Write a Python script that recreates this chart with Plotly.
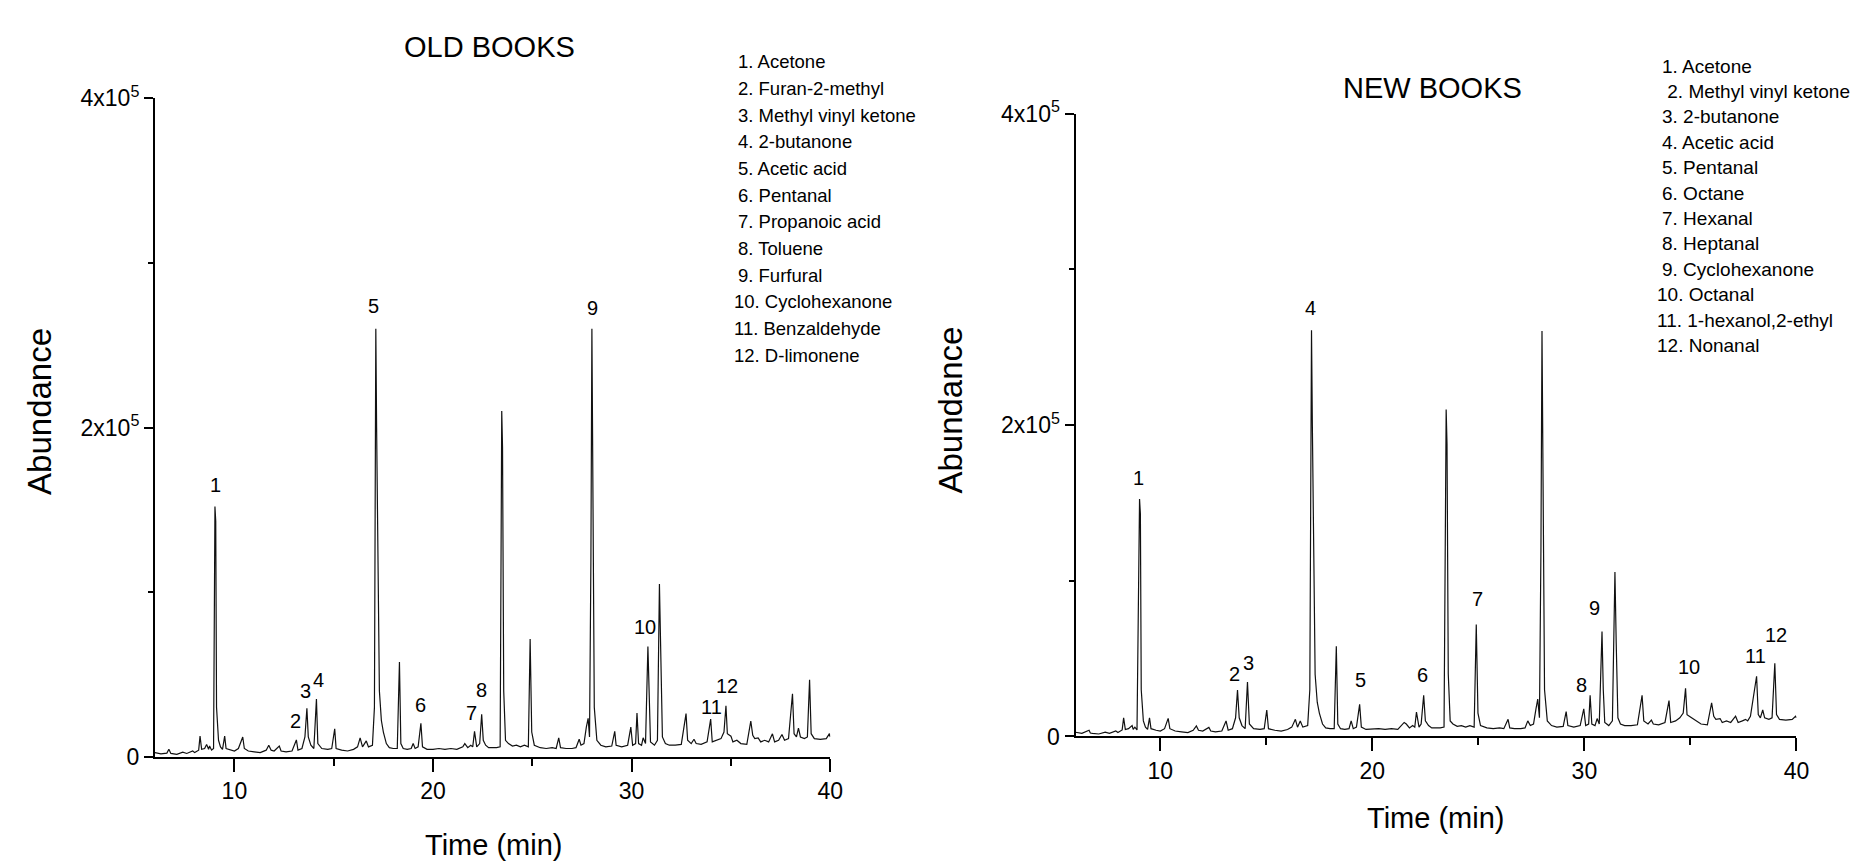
import plotly.graph_objects as go

# ---------------- DATA ----------------
old_time = [6.0, 6.3, 6.6, 6.7, 6.8, 7.1, 7.4, 7.6, 7.9, 8.0, 8.2, 8.27, 8.35, 8.5, 8.6, 8.7, 8.75, 8.85, 8.95,
            9.02, 9.06, 9.1, 9.2, 9.3, 9.4, 9.51, 9.58, 9.8, 10.0, 10.2, 10.42, 10.5, 10.7, 11.0, 11.3, 11.6,
            11.73, 11.85, 12.0, 12.26, 12.35, 12.6, 12.9, 13.12, 13.2, 13.4, 13.55, 13.65, 13.72, 13.85, 14.0,
            14.13, 14.2, 14.4, 14.7, 14.9, 15.05, 15.12, 15.4, 15.7, 16.0, 16.2, 16.33, 16.45, 16.64, 16.75,
            16.95, 17.05, 17.12, 17.16, 17.22, 17.3, 17.4, 17.5, 17.65, 17.8, 18.0, 18.2, 18.31, 18.38, 18.5,
            18.7, 18.9, 19.0, 19.1, 19.25, 19.39, 19.47, 19.7, 20.0, 20.3, 20.6, 20.9, 21.2, 21.5, 21.6, 21.75,
            21.9, 22.0, 22.09, 22.2, 22.35, 22.45, 22.53, 22.65, 22.8, 23.0, 23.2, 23.38, 23.46, 23.5, 23.56,
            23.65, 23.8, 24.0, 24.2, 24.4, 24.6, 24.8, 24.89, 24.97, 25.1, 25.4, 25.7, 26.0, 26.2, 26.33, 26.42,
            26.7, 27.0, 27.2, 27.36, 27.45, 27.6, 27.72, 27.81, 27.88, 27.95, 28.0, 28.05, 28.12, 28.25, 28.45,
            28.7, 29.0, 29.15, 29.22, 29.5, 29.8, 29.96, 30.05, 30.2, 30.27, 30.35, 30.5, 30.58, 30.7, 30.82,
            30.88, 30.95, 31.15, 31.3, 31.4, 31.46, 31.55, 31.7, 31.9, 32.2, 32.5, 32.74, 32.82, 33.0, 33.14,
            33.25, 33.5, 33.8, 33.98, 34.06, 34.3, 34.5, 34.65, 34.75, 34.82, 35.0, 35.1, 35.3, 35.5, 35.8,
            36.0, 36.1, 36.2, 36.37, 36.5, 36.7, 36.9, 37.09, 37.2, 37.4, 37.57, 37.7, 37.9, 38.1, 38.18, 38.3,
            38.4, 38.5, 38.7, 38.85, 38.96, 39.04, 39.2, 39.5, 39.8, 39.96, 40.0]
old_abund_k = [2.5, 1.8, 2.2, 4.5, 2.0, 1.5, 2.8, 2.0, 3.5, 2.5, 4.0, 12.5, 4.5, 5.0, 7.5, 4.5, 6.5, 4.0, 5.0,
               152, 143, 30, 10, 6, 4.5, 12.5, 5, 4, 3.5, 5, 12, 5, 3.5, 3, 2.5, 4,
               7, 4, 3.5, 6.5, 3.5, 3, 3.5, 10.2, 4, 5, 12, 29.5, 12, 7, 5,
               35, 8, 5, 4.5, 5, 17, 5, 4, 3.5, 4.5, 6, 11.5, 6, 9.6, 6,
               7, 30, 260, 200, 130, 40, 22, 15, 8, 5.5, 5, 5, 57.5, 8, 5,
               4.5, 5, 8, 5, 6, 20.3, 6, 4.5, 4.5, 5, 4.5, 5, 4.5, 6, 8, 5.5,
               7, 6, 15.4, 6, 8, 25.8, 10, 7, 5.5, 5.5, 5.5, 6, 210, 188, 40,
               10, 8, 6.5, 7, 6, 7, 6, 71.5, 15, 7, 5.5, 5, 5.5, 5, 11.5, 5.5,
               5, 5, 5.5, 10.6, 7, 8, 18, 23.3, 12, 120, 260, 130, 30, 10, 7,
               6, 6.5, 15.4, 7, 6, 7, 18, 7, 8, 26.6, 8, 7, 11.5, 8, 67,
               30, 9, 7, 10, 105, 60, 12, 8, 7, 7, 7.5, 26.2, 10, 8, 10.6,
               8, 7.5, 9, 22.9, 9, 10, 11, 15, 31, 14, 12.5, 9, 10, 8, 7.5,
               21.7, 13, 11, 11.5, 9, 10, 9, 13.9, 9, 10, 13.5, 10, 11, 38.3, 14, 12,
               17.4, 12, 11, 12, 46.7, 14, 11, 10.5, 11, 14, 12]

new_time = [6.0, 6.3, 6.64, 6.7, 6.8, 7.1, 7.4, 7.6, 7.9, 8.0, 8.2, 8.27, 8.35, 8.5, 8.67, 8.72, 8.8, 8.9,
            9.02, 9.06, 9.1, 9.2, 9.3, 9.4, 9.49, 9.56, 9.8, 10.0, 10.2, 10.37, 10.45, 10.7, 11.0, 11.3, 11.55,
            11.7, 11.8, 12.0, 12.29, 12.38, 12.6, 12.9, 13.1, 13.2, 13.4, 13.55, 13.64, 13.72, 13.85, 14.0,
            14.11, 14.2, 14.4, 14.7, 14.9, 15.02, 15.1, 15.4, 15.7, 16.0, 16.2, 16.37, 16.47, 16.6, 16.72,
            16.95, 17.05, 17.13, 17.17, 17.23, 17.3, 17.4, 17.5, 17.65, 17.8, 18.0, 18.2, 18.3, 18.37, 18.5,
            18.7, 18.9, 19.0, 19.1, 19.25, 19.4, 19.48, 19.7, 20.0, 20.3, 20.6, 20.9, 21.2, 21.5, 21.6, 21.75,
            21.9, 22.0, 22.08, 22.2, 22.3, 22.42, 22.5, 22.65, 22.8, 23.0, 23.2, 23.38, 23.48, 23.52, 23.58,
            23.67, 23.8, 24.0, 24.2, 24.4, 24.6, 24.8, 24.9, 24.98, 25.1, 25.4, 25.7, 26.0, 26.2, 26.4, 26.48,
            26.7, 27.0, 27.2, 27.33, 27.45, 27.6, 27.72, 27.8, 27.88, 27.95, 28.0, 28.05, 28.12, 28.25, 28.45,
            28.7, 29.0, 29.14, 29.22, 29.5, 29.8, 29.97, 30.06, 30.2, 30.27, 30.35, 30.5, 30.6, 30.7, 30.83,
            30.89, 30.96, 31.15, 31.32, 31.44, 31.5, 31.58, 31.7, 31.9, 32.2, 32.5, 32.72, 32.8, 33.0, 33.16,
            33.25, 33.5, 33.8, 33.99, 34.07, 34.3, 34.5, 34.66, 34.77, 34.84, 35.0, 35.15, 35.3, 35.5, 35.8,
            36.0, 36.1, 36.2, 36.4, 36.5, 36.7, 36.9, 37.13, 37.25, 37.45, 37.6, 37.7, 37.83, 38.12, 38.2, 38.3,
            38.41, 38.5, 38.7, 38.85, 38.98, 39.06, 39.2, 39.5, 39.8, 39.96, 40.0]
new_abund_k = [2.7, 2.0, 4.0, 2.2, 2.0, 1.6, 2.8, 2.0, 3.5, 2.6, 4.2, 12.0, 4.5, 5.0, 7.0, 4.5, 6.0, 4.2,
               152.5, 143, 30, 10, 6, 4.5, 12.0, 5, 4, 3.5, 5, 11.6, 5, 3.5, 3, 2.5, 4,
               6.8, 4, 3.5, 5.8, 3.5, 3, 3.5, 10.0, 4, 5, 12, 29.8, 12, 7, 5,
               35, 8, 5, 4.5, 5, 17, 5, 4, 3.5, 4.5, 6, 11, 6, 10, 6,
               7, 30, 261, 200, 130, 40, 22, 15, 8, 5.5, 5, 5, 58, 8, 5,
               4.5, 5, 10, 5, 6, 20.6, 6, 4.5, 4.8, 5, 4.5, 5, 4.5, 9, 8, 5.5,
               7, 6, 15.7, 6, 8, 26.4, 10, 7, 5.5, 5.5, 5.5, 6, 210, 188, 40,
               10, 8, 6.5, 7, 6, 7, 6, 72, 15, 7, 5.5, 5, 5.5, 5, 11, 5.5,
               5, 5, 5.5, 10, 7, 8, 18, 24, 12, 120, 260.5, 130, 30, 10, 7,
               6, 6.5, 16, 7, 6, 7, 17.8, 7, 8, 26.4, 8, 7, 11.5, 8, 67.5,
               30, 9, 7, 10, 105.6, 60, 12, 8, 7, 7, 7.5, 26.4, 10, 8, 10.5,
               8, 7.5, 9, 23, 9, 10, 12, 15, 30.9, 14, 12.5, 11, 10, 8, 7.5,
               21.6, 13, 11, 11.5, 9, 10, 9, 13, 9, 10, 11, 10, 13, 38.7, 14, 12,
               17, 12, 11, 12, 47, 14, 11, 10.5, 11, 13, 12]

old_abund = [v * 1000 for v in old_abund_k]
new_abund = [v * 1000 for v in new_abund_k]

old_peak_labels = ["1", "2", "3", "4", "5", "6", "7", "8", "9", "10", "11", "12"]
old_label_t = [9.05, 13.1, 13.58, 14.24, 17.02, 19.38, 21.94, 22.42, 28.03, 30.68, 34.04, 34.82]
old_label_v = [165000, 21800, 40200, 46800, 274000, 31700, 26600, 40400, 272800, 78600, 30500, 43000]

new_peak_labels = ["1", "2", "3", "4", "5", "6", "7", "8", "9", "10", "11", "12"]
new_label_t = [8.99, 13.52, 14.14, 17.1, 19.46, 22.35, 24.94, 29.84, 30.48, 34.95, 38.08, 39.05]
new_label_v = [166000, 40000, 47500, 275000, 36000, 39500, 88400, 33000, 82300, 44800, 51600, 65000]

old_compounds = ["1. Acetone", "2. Furan-2-methyl", "3. Methyl vinyl ketone", "4. 2-butanone",
                 "5. Acetic acid", "6. Pentanal", "7. Propanoic acid", "8. Toluene", "9. Furfural",
                 "10. Cyclohexanone", "11. Benzaldehyde", "12. D-limonene"]
new_compounds = ["1. Acetone", " 2. Methyl vinyl ketone", "3. 2-butanone", "4. Acetic acid",
                 "5. Pentanal", "6. Octane", "7. Hexanal", "8. Heptanal", "9. Cyclohexanone",
                 "10. Octanal", "11. 1-hexanol,2-ethyl", "12. Nonanal"]

y_tickvals = [0, 200000, 400000]
y_ticktext = ["0", "2x10<sup>5</sup>", "4x10<sup>5</sup>"]
x_tickvals = [10, 20, 30, 40]
x_ticktext = ["10", "20", "30", "40"]

# ---------------- FIGURE ----------------
W, H = 1865, 866
FONT = "Arial, Liberation Sans, sans-serif"


def px(x):
    return x / W


def py(y):
    return 1 - y / H


fig = go.Figure()
fig.add_trace(go.Scatter(x=old_time, y=old_abund, mode="lines",
                         line=dict(color="#111111", width=1.2), xaxis="x", yaxis="y",
                         showlegend=False, hoverinfo="skip"))
fig.add_trace(go.Scatter(x=new_time, y=new_abund, mode="lines",
                         line=dict(color="#111111", width=1.2), xaxis="x2", yaxis="y2",
                         showlegend=False, hoverinfo="skip"))

xcommon = dict(range=[6, 40], tickmode="array", tickvals=x_tickvals, ticktext=x_ticktext,
               showline=True, linecolor="black", linewidth=2, ticks="outside", ticklen=13,
               tickwidth=2, tickcolor="black", showgrid=False, zeroline=False,
               tickfont=dict(family=FONT, size=23, color="black"),
               minor=dict(dtick=5, tick0=0, ticks="outside", ticklen=7, tickwidth=2,
                          tickcolor="black", showgrid=False))
ycommon = dict(range=[0, 400000], tickmode="array", tickvals=y_tickvals, ticktext=y_ticktext,
               showline=True, linecolor="black", linewidth=2, ticks="outside", ticklen=9,
               tickwidth=2, tickcolor="black", showgrid=False, zeroline=False,
               tickfont=dict(family=FONT, size=23, color="black"),
               minor=dict(dtick=100000, tick0=0, ticks="outside", ticklen=5, tickwidth=2,
                          tickcolor="black", showgrid=False))

annotations = []
# titles & axis titles
annotations.append(dict(text="OLD BOOKS", x=px(485), y=py(23), xref="paper", yref="paper",
                        showarrow=False, xanchor="center", yanchor="middle",
                        font=dict(family=FONT, size=29, color="black")))
annotations.append(dict(text="NEW BOOKS", x=px(1435), y=py(65), xref="paper", yref="paper",
                        showarrow=False, xanchor="center", yanchor="middle",
                        font=dict(family=FONT, size=29, color="black")))
annotations.append(dict(text="Abundance", x=px(31), y=py(400), xref="paper", yref="paper",
                        showarrow=False, xanchor="center", yanchor="middle", textangle=-90,
                        font=dict(family=FONT, size=33, color="black")))
annotations.append(dict(text="Abundance", x=px(949), y=py(399), xref="paper", yref="paper",
                        showarrow=False, xanchor="center", yanchor="middle", textangle=-90,
                        font=dict(family=FONT, size=33, color="black")))
annotations.append(dict(text="Time (min)", x=px(489), y=py(849), xref="paper", yref="paper",
                        showarrow=False, xanchor="center", yanchor="middle",
                        font=dict(family=FONT, size=29, color="black")))
annotations.append(dict(text="Time (min)", x=px(1438), y=py(821), xref="paper", yref="paper",
                        showarrow=False, xanchor="center", yanchor="middle",
                        font=dict(family=FONT, size=29, color="black")))

# peak labels
for lab, t, v in zip(old_peak_labels, old_label_t, old_label_v):
    annotations.append(dict(text=lab, x=t, y=v, xref="x", yref="y", showarrow=False,
                            xanchor="center", yanchor="middle",
                            font=dict(family=FONT, size=20, color="black")))
for lab, t, v in zip(new_peak_labels, new_label_t, new_label_v):
    annotations.append(dict(text=lab, x=t, y=v, xref="x2", yref="y2", showarrow=False,
                            xanchor="center", yanchor="middle",
                            font=dict(family=FONT, size=20, color="black")))

# compound lists
for i, name in enumerate(old_compounds):
    xs = 729 if i >= 9 else 733
    annotations.append(dict(text=name, x=px(xs), y=py(38.3 + i * 27.6), xref="paper", yref="paper",
                            showarrow=False, xanchor="left", yanchor="middle",
                            font=dict(family=FONT, size=18.5, color="black")))
for i, name in enumerate(new_compounds):
    xs = 1659 if i >= 9 else 1664
    annotations.append(dict(text=name, x=px(xs), y=py(42.7 + i * 26.3), xref="paper", yref="paper",
                            showarrow=False, xanchor="left", yanchor="middle",
                            font=dict(family=FONT, size=19, color="black")))

fig.update_layout(
    width=W, height=H,
    margin=dict(l=0, r=0, t=0, b=0, pad=0),
    paper_bgcolor="white", plot_bgcolor="white",
    font=dict(family=FONT, color="black"),
    xaxis=dict(domain=[px(148), px(828)], anchor="y", **xcommon),
    yaxis=dict(domain=[py(758), py(76)], anchor="x", **ycommon),
    xaxis2=dict(domain=[px(1075), px(1801)], anchor="y2", **xcommon),
    yaxis2=dict(domain=[py(737), py(92)], anchor="x2", **ycommon),
    annotations=annotations,
    showlegend=False,
)

fig.write_html("out.html")
